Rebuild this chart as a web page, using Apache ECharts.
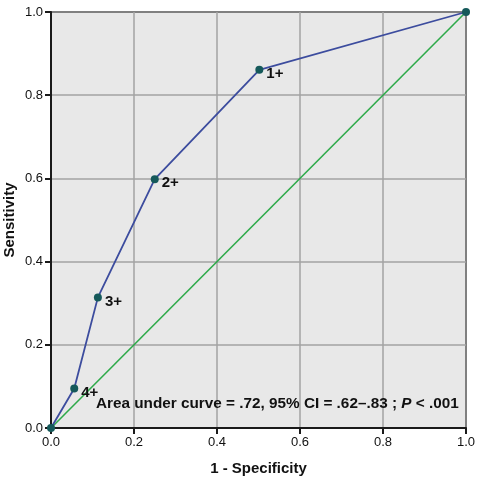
<!DOCTYPE html>
<html>
<head>
<meta charset="utf-8">
<script src="https://cdn.jsdelivr.net/npm/echarts@6/dist/echarts.min.js"></script>
<style>
  html, body { margin: 0; padding: 0; background: #fff; }
  #chart { width: 480px; height: 482px; }
</style>
</head>
<body>
<div id="chart"></div>
<script>
  // ROC points (1 - specificity, sensitivity)
  let rocX = [0, 0.056, 0.113, 0.25, 0.502, 1]
  let rocY = [0, 0.095, 0.314, 0.598, 0.861, 1]
  let rocLabels = ['', '4+', '3+', '2+', '1+', '']
  let refLine = [[0, 0], [1, 1]]

  let chart = echarts.init(document.getElementById('chart'))
  let font = '"Liberation Sans", Arial, sans-serif'

  let rocData = rocX.map((x, i) => ({
    value: [x, rocY[i]],
    label: { show: rocLabels[i] !== '', formatter: rocLabels[i] }
  }))

  let axisCommon = {
    type: 'value',
    min: 0,
    max: 1,
    interval: 0.2,
    axisLine: { show: true, lineStyle: { color: '#1a1a1a', width: 2 } },
    axisTick: { show: true, length: 6, lineStyle: { color: '#1a1a1a', width: 2 } },
    axisLabel: {
      color: '#111', fontSize: 13, fontFamily: font,
      formatter: v => v.toFixed(1)
    },
    splitLine: { show: true, lineStyle: { color: '#a3a3a3', width: 1.5 } },
    nameMoveOverlap: false,
    nameTextStyle: { color: '#111', fontSize: 15, fontWeight: 'bold', fontFamily: font }
  }

  let option = {
    animation: false,
    grid: {
      left: 51, right: 14, top: 12, bottom: 54,
      show: true, backgroundColor: '#e8e8e8', borderColor: '#1a1a1a', borderWidth: 2,
      containLabel: false,
      outerBoundsMode: 'none'
    },
    xAxis: Object.assign({}, axisCommon, {
      name: '1 - Specificity', nameLocation: 'middle', nameGap: 33,
      axisLabel: Object.assign({}, axisCommon.axisLabel, { margin: 8 })
    }),
    yAxis: Object.assign({}, axisCommon, {
      name: 'Sensitivity', nameLocation: 'middle', nameGap: 34,
      axisLabel: Object.assign({}, axisCommon.axisLabel, { margin: 8 })
    }),
    series: [
      {
        type: 'line',
        data: refLine,
        symbol: 'none',
        lineStyle: { color: '#2eaa4a', width: 1.6 },
        silent: true,
        z: 2
      },
      {
        type: 'line',
        data: rocData,
        symbol: 'circle',
        symbolSize: 8,
        itemStyle: { color: '#15595a' },
        lineStyle: { color: '#3c4c9e', width: 1.8 },
        label: {
          position: 'right', distance: 3, offset: [0, 4],
          color: '#111', fontSize: 15, fontWeight: 'bold', fontFamily: font
        },
        z: 3
      }
    ],
    graphic: [
      {
        type: 'text',
        left: 96,
        top: 396,
        style: {
          text: '{n|Area under curve = .72, 95% CI = .62\u2013.83 ; }{i|P}{n| < .001}',
          rich: {
            n: { fontSize: 15.3, fontWeight: 'bold', fontFamily: font, fill: '#111' },
            i: { fontSize: 15.3, fontWeight: 'bold', fontStyle: 'italic', fontFamily: font, fill: '#111' }
          }
        },
        z: 10
      }
    ]
  }
  chart.setOption(option)
</script>
</body>
</html>
